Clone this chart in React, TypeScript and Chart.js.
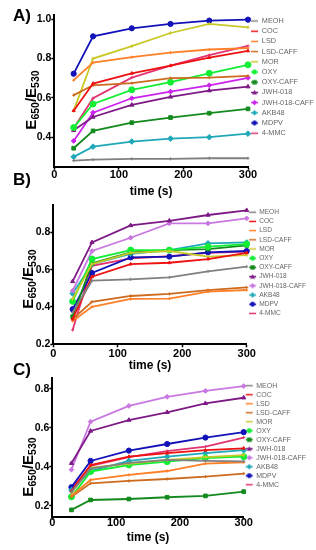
import React, { useEffect, useRef } from "react";
import { Chart, registerables } from "chart.js";
Chart.register(...registerables);

const times = [30, 60, 120, 180, 240, 300];
const seriesNames = ["MEOH", "COC", "LSD", "LSD-CAFF", "MOR", "OXY", "OXY-CAFF", "JWH-018", "JWH-018-CAFF", "AKB48", "MDPV", "4-MMC"];
const xTicks = [0, 100, 200, 300];
const yTicksA = [0.4, 0.6, 0.8, 1.0];
const yTicksB = [0.2, 0.4, 0.6, 0.8];
const yTicksC = [0.2, 0.4, 0.6, 0.8];

// Panel A
const A_MEOH = [0.281, 0.286, 0.29, 0.29, 0.293, 0.293];
const A_COC = [0.535, 0.673, 0.725, 0.764, 0.805, 0.839];
const A_LSD = [0.69, 0.779, 0.807, 0.83, 0.846, 0.853];
const A_LSD_CAFF = [0.614, 0.664, 0.675, 0.7, 0.703, 0.712];
const A_MOR = [0.535, 0.8, 0.863, 0.93, 0.976, 0.959];
const A_OXY = [0.449, 0.569, 0.641, 0.68, 0.725, 0.768];
const A_OXY_CAFF = [0.344, 0.432, 0.474, 0.5, 0.522, 0.544];
const A_JWH018 = [0.435, 0.503, 0.564, 0.605, 0.637, 0.657];
const A_JWH018_CAFF = [0.381, 0.525, 0.598, 0.632, 0.664, 0.702];
const A_AKB48 = [0.3, 0.352, 0.378, 0.393, 0.4, 0.418];
const A_MDPV = [0.723, 0.913, 0.954, 0.976, 0.993, 0.998];
const A_4MMC = [0.445, 0.598, 0.703, 0.764, 0.818, 0.864];

// Panel B
const B_MEOH = [0.37, 0.541, 0.548, 0.559, 0.591, 0.616];
const B_COC = [0.335, 0.562, 0.63, 0.637, 0.657, 0.69];
const B_LSD = [0.325, 0.401, 0.443, 0.445, 0.482, 0.491];
const B_LSD_CAFF = [0.335, 0.428, 0.459, 0.47, 0.49, 0.505];
const B_MOR = [0.443, 0.63, 0.69, 0.7, 0.67, 0.678];
const B_OXY = [0.43, 0.657, 0.705, 0.705, 0.723, 0.737];
const B_OXY_CAFF = [0.348, 0.634, 0.693, 0.705, 0.71, 0.73];
const B_JWH018 = [0.537, 0.746, 0.837, 0.862, 0.893, 0.918];
const B_JWH018_CAFF = [0.487, 0.7, 0.771, 0.848, 0.848, 0.875];
const B_AKB48 = [0.472, 0.63, 0.685, 0.705, 0.741, 0.746];
const B_MDPV = [0.388, 0.582, 0.666, 0.67, 0.693, 0.7];
const B_4MMC = [0.277, 0.621, 0.66, 0.672, 0.69, 0.697];

// Panel C
const C_MEOH = [0.27, 0.39, 0.42, 0.435, 0.43, 0.428];
const C_COC = [0.275, 0.409, 0.452, 0.47, 0.485, 0.495];
const C_LSD = [0.25, 0.332, 0.358, 0.378, 0.416, 0.423];
const C_LSD_CAFF = [0.245, 0.315, 0.327, 0.337, 0.349, 0.365];
const C_MOR = [0.265, 0.395, 0.415, 0.435, 0.45, 0.46];
const C_OXY = [0.245, 0.375, 0.409, 0.426, 0.445, 0.452];
const C_OXY_CAFF = [0.178, 0.229, 0.234, 0.243, 0.25, 0.272];
const C_JWH018 = [0.418, 0.584, 0.64, 0.68, 0.726, 0.755];
const C_JWH018_CAFF = [0.385, 0.632, 0.713, 0.76, 0.79, 0.815];
const C_AKB48 = [0.28, 0.378, 0.43, 0.452, 0.47, 0.485];
const C_MDPV = [0.295, 0.43, 0.483, 0.517, 0.55, 0.578];
const C_4MMC = [0.285, 0.405, 0.45, 0.48, 0.503, 0.55];

const colorsA = ["#808080", "#ee1111", "#ff7f27", "#cc6a1e", "#c8c828", "#11ee33", "#138a1e", "#7d1a86", "#cc22ee", "#1fa9b8", "#1212b8", "#e23370"];
const colorsBC = ["#808080", "#ee1111", "#ff7f27", "#cc6a1e", "#c8c828", "#11ee33", "#138a1e", "#7d1a86", "#c878e0", "#1fa9b8", "#1212b8", "#e23370"];
const markers = ["cross", "triangle", "cross", "cross", "cross", "circle", "rect", "triangle", "rectRot", "rectRot", "circle", "cross"];
const radii = [1.6, 1.8, 1.6, 1.6, 1.8, 3, 2.6, 2.4, 2.4, 2.8, 2.6, 1.6];
const legendMarks = ["none", "none", "none", "none", "none", "circle", "rect", "triangle", "diamond", "diamond", "circle", "none"];

const FONT = "'Liberation Sans', Arial, sans-serif";

function makeIcon(color: string, mark: string): HTMLCanvasElement {
  const c = document.createElement("canvas");
  c.width = 9;
  c.height = 7;
  const ctx = c.getContext("2d")!;
  ctx.strokeStyle = color;
  ctx.fillStyle = color;
  ctx.lineWidth = 1.5;
  ctx.beginPath();
  ctx.moveTo(1, 3.5);
  ctx.lineTo(8, 3.5);
  ctx.stroke();
  const cx = 4.5, cy = 3.5;
  ctx.beginPath();
  if (mark === "circle") ctx.arc(cx, cy, 2.4, 0, Math.PI * 2);
  else if (mark === "rect") ctx.rect(cx - 2.2, cy - 2.2, 4.4, 4.4);
  else if (mark === "triangle") { ctx.moveTo(cx, cy - 2.6); ctx.lineTo(cx + 2.5, cy + 2); ctx.lineTo(cx - 2.5, cy + 2); ctx.closePath(); }
  else if (mark === "diamond") { ctx.moveTo(cx, cy - 2.8); ctx.lineTo(cx + 2.6, cy); ctx.lineTo(cx, cy + 2.8); ctx.lineTo(cx - 2.6, cy); ctx.closePath(); }
  if (mark !== "none") ctx.fill();
  return c;
}

type Cfg = {
  top: number; height: number; yMin: number; yMax: number; yTicks: number[];
  yWidth: number; xHeight: number; legendFont: number; legendPad: number; legendOffset: number;
  legendWidth: number; xTickPad: number; data: number[][]; colors: string[];
};

const cfgA: Cfg = {
  top: 9, height: 190, yMin: 0.25, yMax: 1.02, yTicks: yTicksA, yWidth: 54.3, xHeight: 32.3,
  legendFont: 7.3, legendPad: 2.9, legendOffset: 5.45, legendWidth: 68, xTickPad: -1,
  data: [A_MEOH, A_COC, A_LSD, A_LSD_CAFF, A_MOR, A_OXY, A_OXY_CAFF, A_JWH018, A_JWH018_CAFF, A_AKB48, A_MDPV, A_4MMC],
  colors: colorsA,
};
const cfgB: Cfg = {
  top: 199, height: 174, yMin: 0.2, yMax: 0.945, yTicks: yTicksB, yWidth: 53.3, xHeight: 28.7,
  legendFont: 6.6, legendPad: 2.6, legendOffset: 7.3, legendWidth: 69.3, xTickPad: 0,
  data: [B_MEOH, B_COC, B_LSD, B_LSD_CAFF, B_MOR, B_OXY, B_OXY_CAFF, B_JWH018, B_JWH018_CAFF, B_AKB48, B_MDPV, B_4MMC],
  colors: colorsBC,
};
const cfgC: Cfg = {
  top: 372, height: 173, yMin: 0.143, yMax: 0.855, yTicks: yTicksC, yWidth: 52.3, xHeight: 28.3,
  legendFont: 7, legendPad: 2, legendOffset: 8.2, legendWidth: 73, xTickPad: -3,
  data: [C_MEOH, C_COC, C_LSD, C_LSD_CAFF, C_MOR, C_OXY, C_OXY_CAFF, C_JWH018, C_JWH018_CAFF, C_AKB48, C_MDPV, C_4MMC],
  colors: colorsBC,
};

function Panel({ cfg }: { cfg: Cfg }) {
  const ref = useRef<HTMLCanvasElement>(null);
  useEffect(() => {
    const icons = seriesNames.map((_, i) => makeIcon(cfg.colors[i], legendMarks[i]));
    const datasets = seriesNames.map((name, i) => ({
      label: name,
      data: times.map((t, j) => ({ x: t, y: cfg.data[i][j] })),
      borderColor: cfg.colors[i],
      backgroundColor: cfg.colors[i],
      borderWidth: 1.8,
      pointStyle: markers[i],
      pointRadius: radii[i],
      pointBorderWidth: 1,
      pointBorderColor: cfg.colors[i],
      pointBackgroundColor: cfg.colors[i],
      tension: 0,
      clip: false as any,
    }));
    const chart = new Chart(ref.current!, {
      type: "line",
      data: { datasets } as any,
      options: {
        animation: false,
        responsive: false,
        devicePixelRatio: 1,
        layout: { padding: 0 },
        plugins: {
          tooltip: { enabled: false },
          legend: {
            position: "right",
            align: "start",
            maxWidth: cfg.legendWidth,
            title: { display: true, text: "", font: { size: 1, lineHeight: 1 }, padding: { top: cfg.legendOffset - 1, bottom: 0 } as any },
            labels: {
              usePointStyle: true,
              padding: cfg.legendPad,
              color: "#333",
              font: { size: cfg.legendFont, family: FONT },
              generateLabels: (ch: any) =>
                ch.data.datasets.map((ds: any, i: number) => ({
                  text: ds.label,
                  fillStyle: ds.borderColor,
                  strokeStyle: ds.borderColor,
                  lineWidth: 0,
                  pointStyle: icons[i],
                  hidden: false,
                  datasetIndex: i,
                })),
            },
          },
        },
        scales: {
          x: {
            type: "linear",
            min: 0,
            max: 300,
            afterBuildTicks: (s: any) => { s.ticks = xTicks.map((v) => ({ value: v })); },
            afterFit: (s: any) => { s.height = cfg.xHeight; },
            grid: { drawOnChartArea: false, tickLength: 3, tickColor: "#000", tickWidth: 1.5 },
            border: { color: "#000", width: 2 },
            ticks: { autoSkip: false, maxRotation: 0, padding: cfg.xTickPad, color: "#000", font: { size: 11, weight: "bold", family: FONT } },
            title: { display: true, text: "time (s)", color: "#000", padding: 0, font: { size: 12, weight: "bold", family: FONT } },
          },
          y: {
            type: "linear",
            min: cfg.yMin,
            max: cfg.yMax,
            afterBuildTicks: (s: any) => { s.ticks = cfg.yTicks.map((v) => ({ value: v })); },
            afterFit: (s: any) => { s.width = cfg.yWidth; },
            grid: { drawOnChartArea: false, tickLength: 3, tickColor: "#000", tickWidth: 1.5 },
            border: { color: "#000", width: 2 },
            ticks: { autoSkip: false, padding: 0, color: "#000", font: { size: 10.5, weight: "bold", family: FONT }, callback: (v: any) => Number(v).toFixed(1) },
          },
        },
      } as any,
    });
    return () => chart.destroy();
  }, []);
  return (
    <canvas
      ref={ref}
      width={316}
      height={cfg.height}
      style={{ position: "absolute", left: 0, top: cfg.top, width: 316, height: cfg.height }}
    />
  );
}

function Label({ text, left, baseline, size }: { text: string; left: number; baseline: number; size: number }) {
  return (
    <div style={{ position: "absolute", left, top: baseline - 0.8465 * size, fontFamily: FONT, fontWeight: "bold", fontSize: size, lineHeight: 1, color: "#000", whiteSpace: "nowrap" }}>
      {text}
    </div>
  );
}

function YTitle({ cx, cy, size }: { cx: number; cy: number; size: number }) {
  return (
    <div
      style={{
        position: "absolute", left: cx, top: cy, transform: "translate(-50%, -50%) rotate(-90deg)",
        fontFamily: FONT, fontWeight: "bold", fontSize: size, lineHeight: 1, color: "#000", whiteSpace: "nowrap",
      }}
    >
      E<sub style={{ fontSize: "0.7em", verticalAlign: "-0.25em" }}>650</sub>/E<sub style={{ fontSize: "0.7em", verticalAlign: "-0.25em" }}>530</sub>
    </div>
  );
}

export default function App() {
  return (
    <div style={{ position: "absolute", left: 0, top: 0, width: 316, height: 550, overflow: "hidden", background: "#fff" }}>
      <Panel cfg={cfgA} />
      <Panel cfg={cfgB} />
      <Panel cfg={cfgC} />
      <Label text="A)" left={13} baseline={21} size={17} />
      <Label text="B)" left={13} baseline={185} size={17} />
      <Label text="C)" left={13} baseline={375} size={17} />
      <YTitle cx={31.5} cy={100} size={15} />
      <YTitle cx={28.5} cy={279} size={15} />
      <YTitle cx={28.5} cy={467} size={15} />
    </div>
  );
}
